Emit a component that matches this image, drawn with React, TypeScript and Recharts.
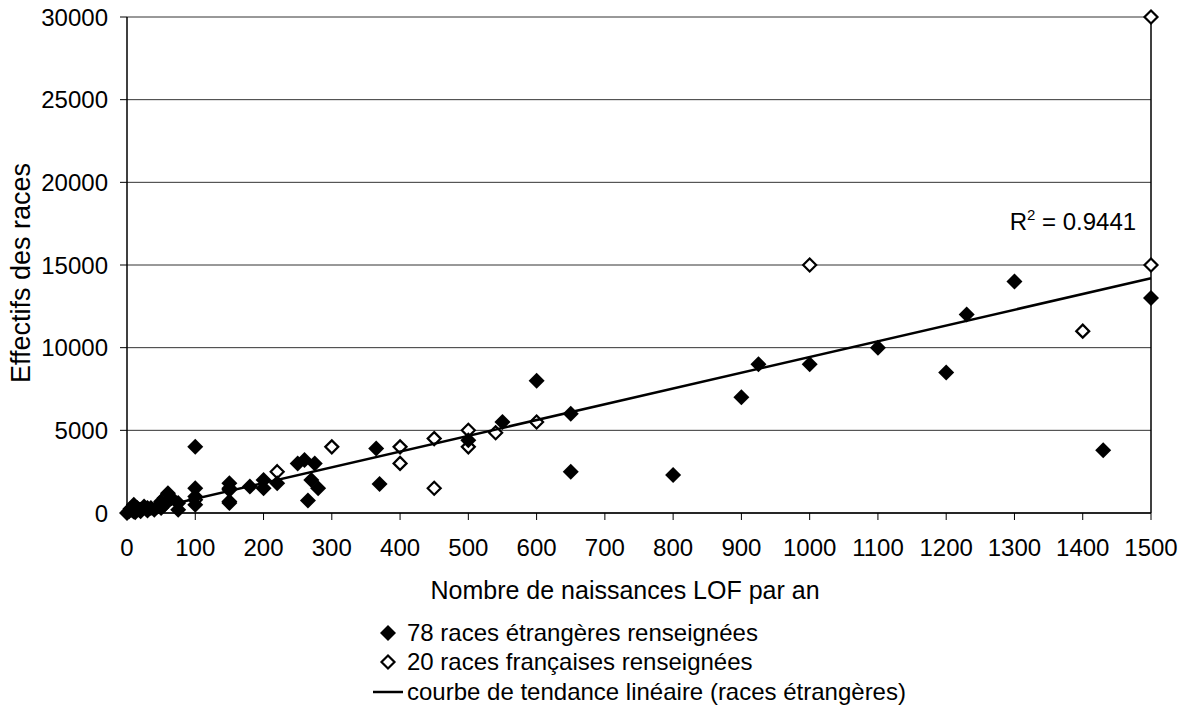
import React from 'react';
import { ScatterChart, Scatter, XAxis, YAxis, CartesianGrid, ReferenceLine, ReferenceDot } from 'recharts';

const xTicks = [0, 100, 200, 300, 400, 500, 600, 700, 800, 900, 1000, 1100, 1200, 1300, 1400, 1500];
const yTicks = [0, 5000, 10000, 15000, 20000, 25000, 30000];

// 78 races étrangères : naissances LOF par an / effectif
const foreignBirths = [
  0, 3, 5, 8, 10, 12, 15, 18, 20, 25, 28, 30, 35, 40, 45, 50, 50, 55, 60, 65,
  75, 75, 100, 100, 100, 100, 150, 150, 150, 150, 180, 200, 200, 220, 250, 260, 275, 270, 280, 265,
  365, 370, 500, 550, 600, 650, 650, 800, 900, 925, 1000, 1100, 1200, 1230, 1300, 1430, 1500,
];
const foreignCounts = [
  0, 100, 250, 150, 500, 50, 300, 200, 100, 400, 250, 150, 300, 200, 400, 300, 700, 500, 1200, 900,
  600, 200, 4000, 1500, 1000, 500, 1800, 1500, 700, 600, 1600, 2000, 1500, 1800, 3000, 3200, 3000, 2000, 1500, 750,
  3900, 1750, 4400, 5500, 8000, 6000, 2500, 2300, 7000, 9000, 9000, 10000, 8500, 12000, 14000, 3800, 13000,
];

// 20 races françaises
const frenchBirths = [1500, 1000, 1500, 1400, 400, 400, 450, 450, 500, 500, 540, 600, 220, 300, 55, 10, 30, 20, 150, 100];
const frenchCounts = [30000, 15000, 15000, 11000, 4000, 3000, 4500, 1500, 5000, 4000, 4850, 5500, 2500, 4000, 900, 100, 300, 200, 1400, 800];

// courbe de tendance linéaire (races étrangères)
const trendBirths = [10, 1500];
const trendCounts = [0, 14200];

const R2 = 0.9441;

const FONT = '"Liberation Sans", Arial, sans-serif';

const zip = (xs: number[], ys: number[]) => xs.map((x, i) => ({ x, y: ys[i] }));
const foreign = zip(foreignBirths, foreignCounts);
const french = zip(frenchBirths, frenchCounts);
const trend = zip(trendBirths, trendCounts);

function FilledDiamond(props: any) {
  const { cx, cy } = props;
  if (cx == null || cy == null) return <g />;
  const r = 8;
  return <polygon points={`${cx},${cy - r} ${cx + r},${cy} ${cx},${cy + r} ${cx - r},${cy}`} fill="#000" />;
}

function OpenDiamond(props: any) {
  const { cx, cy } = props;
  if (cx == null || cy == null) return <g />;
  const r = 6.5;
  return (
    <polygon
      points={`${cx},${cy - r} ${cx + r},${cy} ${cx},${cy + r} ${cx - r},${cy}`}
      fill="#fff"
      stroke="#000"
      strokeWidth={2.2}
    />
  );
}

const NoDot = () => <g />;

function LegendBox() {
  const row: React.CSSProperties = { display: 'flex', alignItems: 'center', height: 29.5 };
  const txt: React.CSSProperties = { fontFamily: FONT, fontSize: 24, color: '#000', whiteSpace: 'nowrap' };
  return (
    <div style={{ position: 'absolute', left: 365, top: 618 }}>
      <div style={row}>
        <svg width={42} height={20}>
          <FilledDiamond cx={23} cy={10} />
        </svg>
        <span style={txt}>78 races étrangères renseignées</span>
      </div>
      <div style={row}>
        <svg width={42} height={20}>
          <OpenDiamond cx={23} cy={10} />
        </svg>
        <span style={txt}>20 races françaises renseignées</span>
      </div>
      <div style={row}>
        <svg width={42} height={20}>
          <line x1={8} y1={10} x2={38} y2={10} stroke="#000" strokeWidth={2.5} />
        </svg>
        <span style={txt}>courbe de tendance linéaire (races étrangères)</span>
      </div>
    </div>
  );
}

export default function App() {
  return (
    <div style={{ position: 'relative', left: -8, top: -8, width: 1188, height: 715, background: '#fff' }}>
      <ScatterChart
        width={1188}
        height={715}
        margin={{ top: 17, right: 37, left: 0, bottom: 152 }}
        style={{ fontFamily: FONT }}
      >
        <CartesianGrid horizontal vertical={false} stroke="#333" strokeWidth={1} />
        <XAxis
          type="number"
          dataKey="x"
          domain={[0, 1500]}
          ticks={xTicks}
          interval={0}
          height={50}
          axisLine={{ stroke: '#000', strokeWidth: 1.5 }}
          tickLine={{ stroke: '#000' }}
          tickSize={7}
          tickMargin={19}
          tick={{ fill: '#000', fontSize: 24, fontFamily: FONT }}
          label={(p: any) => {
            const vb = p.viewBox;
            return (
              <text
                x={vb.x + vb.width / 2 - 14}
                y={vb.y + 86}
                textAnchor="middle"
                fontSize={25}
                fontFamily={FONT}
                fill="#000"
              >
                Nombre de naissances LOF par an
              </text>
            );
          }}
        />
        <YAxis
          type="number"
          dataKey="y"
          domain={[0, 30000]}
          ticks={yTicks}
          interval={0}
          width={127}
          axisLine={{ stroke: '#000', strokeWidth: 1.5 }}
          tickLine={{ stroke: '#000' }}
          tickSize={7}
          tickMargin={12}
          tick={{ fill: '#000', fontSize: 24, fontFamily: FONT }}
          label={(p: any) => {
            const vb = p.viewBox;
            const cy = vb.y + vb.height / 2 + 8;
            return (
              <text
                x={21}
                y={cy}
                transform={`rotate(-90 21 ${cy})`}
                textAnchor="middle"
                dominantBaseline="central"
                fontSize={27}
                fontFamily={FONT}
                fill="#000"
              >
                Effectifs des races
              </text>
            );
          }}
        />
        <ReferenceLine x={1500} stroke="#000" strokeWidth={1.5} />
        <Scatter data={french} shape={OpenDiamond} isAnimationActive={false} />
        <Scatter data={foreign} shape={FilledDiamond} isAnimationActive={false} />
        <Scatter
          data={trend}
          shape={NoDot}
          line={{ stroke: '#000', strokeWidth: 2.5 }}
          isAnimationActive={false}
        />
        <ReferenceDot
          x={1293}
          y={17100}
          r={0}
          ifOverflow="visible"
          label={(p: any) => {
            const vb = p.viewBox;
            return (
              <text x={vb.x} y={vb.y} fontSize={24} fontFamily={FONT} fill="#000">
                R
                <tspan fontSize={15} dy={-10}>2</tspan>
                <tspan dy={10}>{` = ${R2}`}</tspan>
              </text>
            );
          }}
        />
      </ScatterChart>
      <LegendBox />
    </div>
  );
}
